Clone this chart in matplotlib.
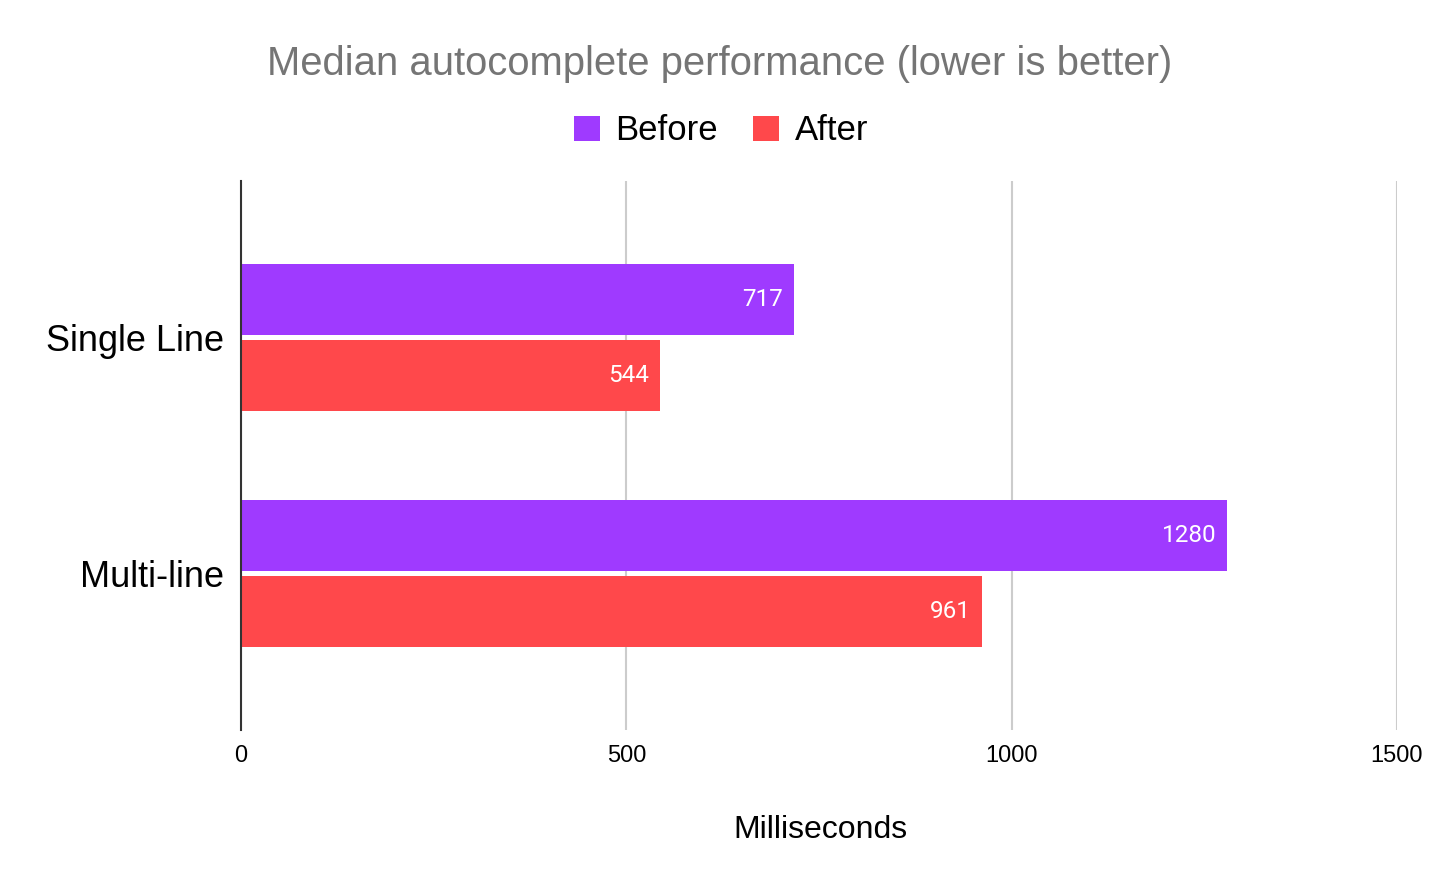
import matplotlib.pyplot as plt

categories = ["Single Line", "Multi-line"]
before = [717, 1280]
after = [544, 961]
series_names = ["Before", "After"]
xticks = [0, 500, 1000, 1500]

purple = "#9f3aff"
red = "#ff484b"

fig = plt.figure(figsize=(14.42, 8.92), dpi=100)
ax = fig.add_axes([241 / 1442, 1 - 730 / 892, 1156 / 1442, 549 / 892])

pos = list(range(len(categories)))
h = 0.30
off = 0.161
b1 = ax.barh([p - off for p in pos], before, height=h, color=purple, label=series_names[0], zorder=3)
b2 = ax.barh([p + off for p in pos], after, height=h, color=red, label=series_names[1], zorder=3)

for bars, vals in ((b1, before), (b2, after)):
    for bar, v in zip(bars, vals):
        ax.text(v - 14, bar.get_y() + bar.get_height() / 2, str(v),
                ha="right", va="center", color="white", fontsize=17.5,
                family="Roboto", zorder=4)

ax.set_xlim(0, 1500)
ax.set_ylim(1.665, -0.665)
ax.set_xticks(xticks)
ax.set_xticklabels([str(t) for t in xticks], family="Liberation Sans", fontsize=17)
ax.set_yticks(pos)
ax.set_yticklabels(categories, family="Liberation Sans", fontsize=26)
ax.tick_params(axis="x", length=0, pad=11)
ax.tick_params(axis="y", length=0, pad=12)
ax.grid(axis="x", color="#cccccc", linewidth=1.5, zorder=0)
for s in ["top", "right", "bottom"]:
    ax.spines[s].set_visible(False)
ax.spines["left"].set_color("#333333")
ax.spines["left"].set_linewidth(1.5)
ax.spines["left"].set_zorder(5)

ax.set_xlabel("Milliseconds", family="Liberation Sans", fontsize=23)
ax.xaxis.set_label_coords((820 - 241) / 1156, -(830 - 730) / 549)
ax.xaxis.label.set_va("center")

fig.text(720 / 1442, 1 - 64 / 892, "Median autocomplete performance (lower is better)",
         ha="center", va="center", color="#757575", fontsize=28.8, family="Liberation Sans")

fig.legend(handles=[b1, b2], loc="center", bbox_to_anchor=(721 / 1442, 1 - 131 / 892),
           ncol=2, frameon=False, prop={"family": "Liberation Sans", "size": 25},
           handlelength=0.75, handleheight=0.75, handletextpad=0.45, columnspacing=1.0)

fig.savefig("out.png", dpi=100)
